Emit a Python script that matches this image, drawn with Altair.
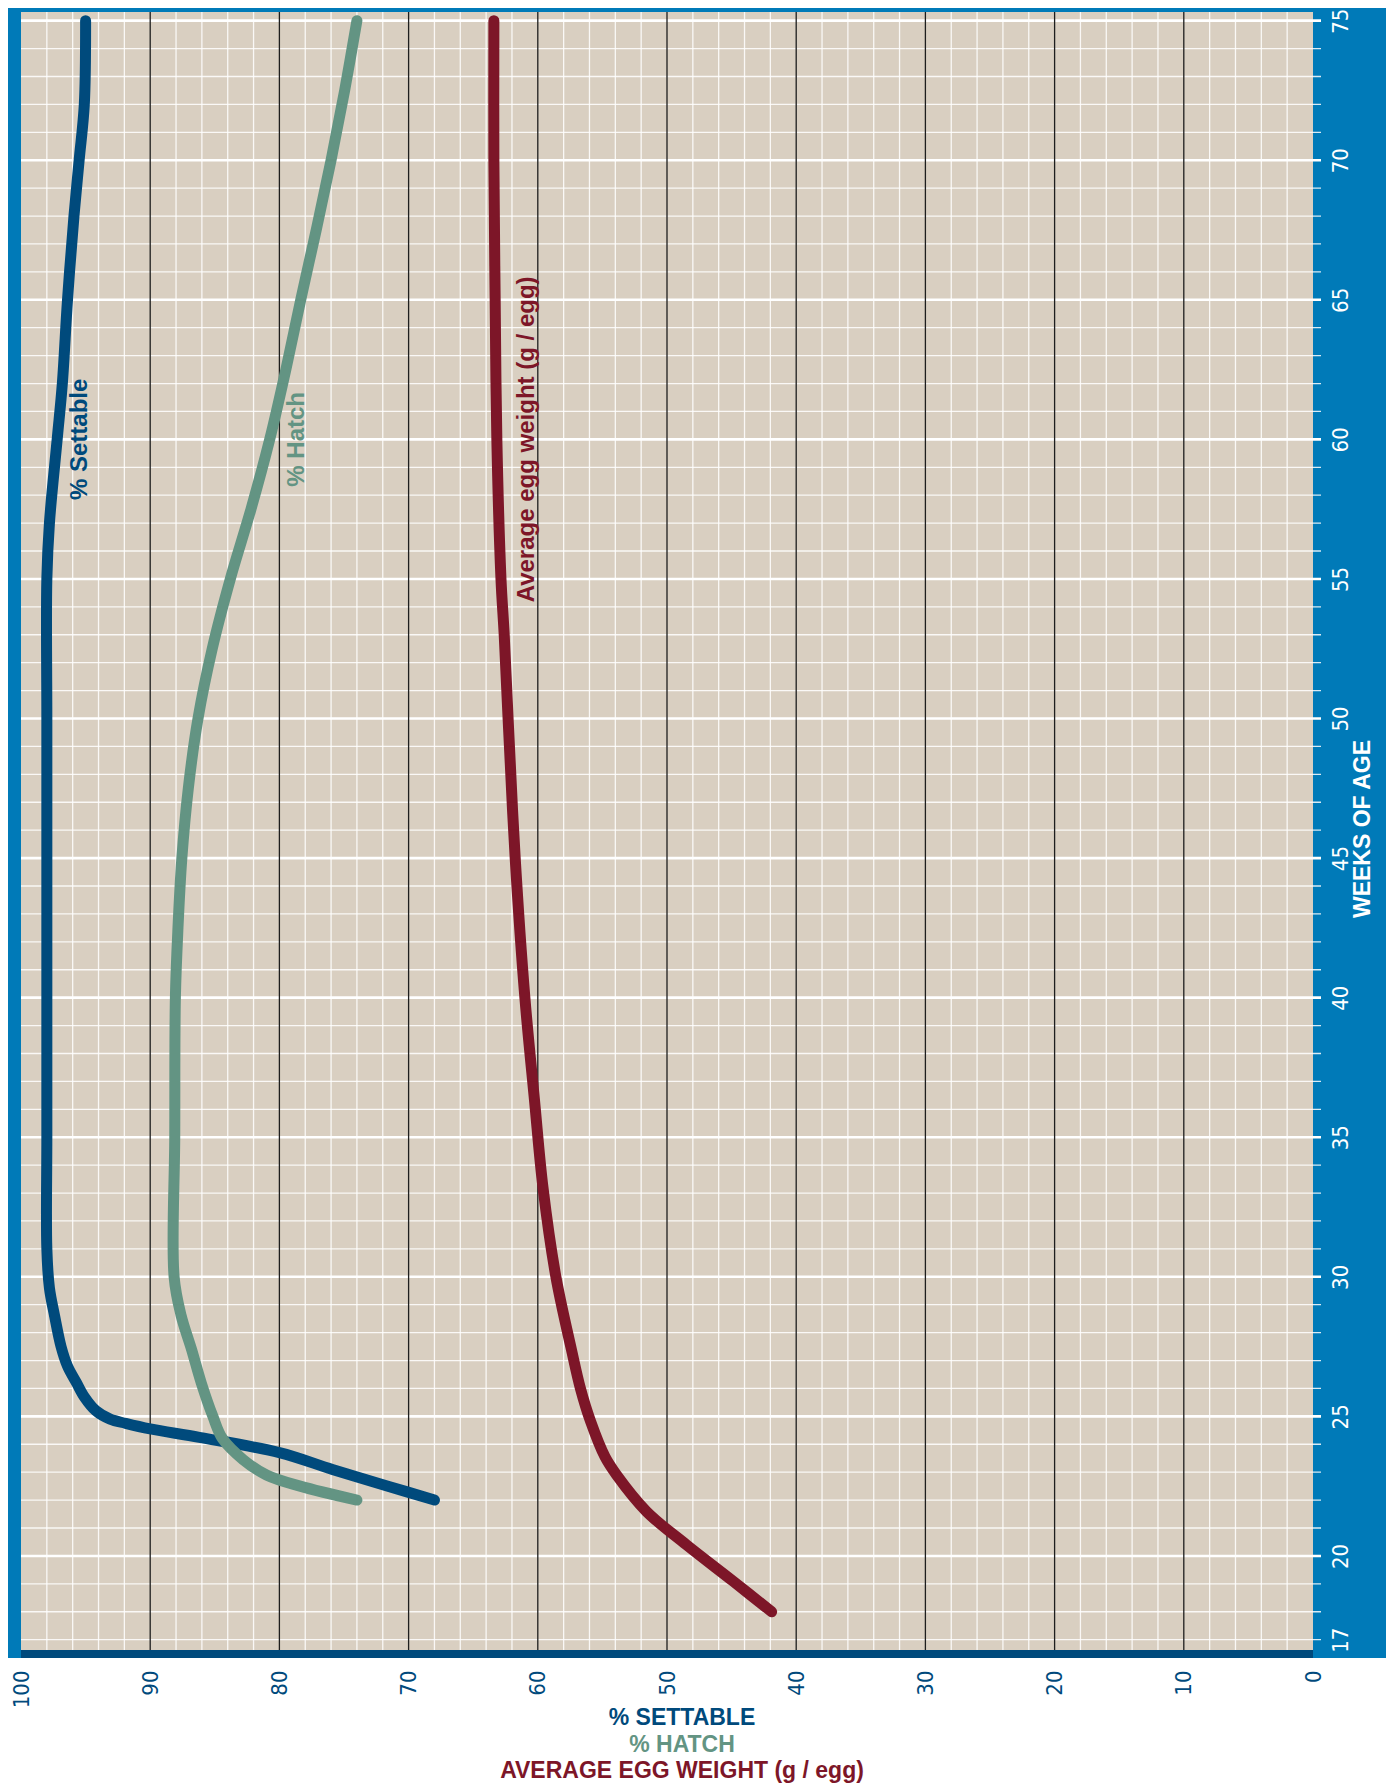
import altair as alt
import pandas as pd

# ---------------- data ----------------
settable_weeks = [22, 22.5, 23.1, 23.7, 24.25, 24.55, 24.75, 24.9, 25.2, 25.7,
                  26.2, 26.8, 27.5, 28.6, 29.6, 31, 35, 40, 45, 50,
                  55, 57, 60, 62, 65, 68, 70, 72, 75]
settable_vals = [68.0, 71.6, 75.9, 80.0, 86.2, 90.0, 91.9, 93.1, 94.2, 95.1,
                 95.7, 96.4, 96.9, 97.4, 97.8, 98.0, 98.0, 98.0, 98.0, 98.0,
                 98.0, 97.8, 97.2, 96.8, 96.4, 95.9, 95.5, 95.1, 95.0]

hatch_weeks = [22, 22.5, 22.9, 23.45, 24.2, 25.0, 26.2, 27.4, 28.6, 30,
               35, 40, 42.5, 45, 47.5, 50, 52.5, 55, 57.5, 60,
               62.5, 65, 67.5, 70, 72.5, 75]
hatch_vals = [74.0, 78.4, 81.0, 82.8, 84.4, 85.15, 86.05, 86.8, 87.6, 88.15,
              88.1, 88.05, 87.85, 87.55, 87.05, 86.3, 85.2, 83.8, 82.2, 80.75,
              79.5, 78.35, 77.15, 76.0, 74.95, 74.0]

egg_weeks = [18, 19.1, 20.4, 21.6, 22.9, 23.55, 24.8, 26, 27.4, 30,
             33.2, 36.3, 40, 45, 50, 53, 55, 60, 65, 70, 75]
egg_vals = [41.9, 44.9, 48.5, 51.6, 53.9, 54.8, 55.9, 56.7, 57.4, 58.6,
            59.6, 60.25, 61.0, 61.75, 62.3, 62.6, 62.85, 63.17, 63.3, 63.4, 63.4]

series_names = ["% Settable", "% Hatch", "Average egg weight (g / egg)"]
label_values = [95.4, 78.6, 60.8]
label_weeks = [60, 60, 60]

x_tick_labels = [100, 90, 80, 70, 60, 50, 40, 30, 20, 10, 0]
week_tick_labels = [17, 20, 25, 30, 35, 40, 45, 50, 55, 60, 65, 70, 75]
x_minor = [v for v in range(2, 100, 2) if v % 10 != 0]
x_major = [10, 20, 30, 40, 50, 60, 70, 80, 90]
week_minor = [w for w in range(17, 76) if w % 5 != 0]
week_major = [w for w in range(20, 76, 5)]

bottom_titles = ["% SETTABLE", "% HATCH", "AVERAGE EGG WEIGHT (g / egg)"]
right_title = "WEEKS OF AGE"

# ---------------- styling ----------------
W, H = 1292, 1638
FRAME = "#007AB8"
DARK = "#004A7C"
BEIGE = "#D9CFC1"
C_SET = "#004A7C"
C_HAT = "#639483"
C_EGG = "#7D1628"
NARROW = "Liberation Sans Narrow, DejaVu Sans Condensed, sans-serif"
SANS = "Liberation Sans, Arial, sans-serif"

xscale = alt.Scale(domain=[0, 100], reverse=True, nice=False, zero=False)
yscale = alt.Scale(domain=[16.63, 75.31], nice=False, zero=False)

x_axis = alt.Axis(values=x_tick_labels, orient="bottom", labelAngle=270,
                  labelAlign="right", labelBaseline="middle", labelPadding=20,
                  ticks=False, tickSize=0, domain=False, grid=False,
                  labelFont=NARROW, labelFontSize=22, labelColor=DARK,
                  title=None, labelFlush=False, labelOverlap=False, zindex=1)
y_axis = alt.Axis(values=week_tick_labels, orient="right", labelAngle=270,
                  labelAlign="center", labelBaseline="top", labelPadding=17,
                  ticks=False, tickSize=0, domain=False, grid=False,
                  labelFont=NARROW, labelFontSize=22, labelColor="white",
                  title=None, labelFlush=False, labelOverlap=False, zindex=1)

one = pd.DataFrame({"k": [0]})

frame = alt.Chart(one).mark_rect(color=FRAME).encode(
    x=alt.value(-13), x2=alt.value(W + 73), y=alt.value(-4), y2=alt.value(H + 8))
plotbg = alt.Chart(one).mark_rect(color=BEIGE).encode(
    x=alt.value(0), x2=alt.value(W), y=alt.value(0), y2=alt.value(H))
band = alt.Chart(one).mark_rect(color=DARK).encode(
    x=alt.value(0), x2=alt.value(W), y=alt.value(H), y2=alt.value(H + 8))

vminor = alt.Chart(pd.DataFrame({"v": x_minor})).mark_rule(
    color="white", strokeWidth=1.3, opacity=0.85).encode(
    x=alt.X("v:Q", scale=xscale, axis=x_axis))
hminor = alt.Chart(pd.DataFrame({"w": week_minor})).mark_rule(
    color="white", strokeWidth=1.3, opacity=0.85).encode(
    y=alt.Y("w:Q", scale=yscale, axis=y_axis), x=alt.value(0), x2=alt.value(W + 8))
hmajor = alt.Chart(pd.DataFrame({"w": week_major})).mark_rule(
    color="white", strokeWidth=2.6).encode(
    y=alt.Y("w:Q", scale=yscale, axis=y_axis), x=alt.value(0), x2=alt.value(W + 8))
vmajor = alt.Chart(pd.DataFrame({"v": x_major})).mark_rule(
    color="#1E1E1E", strokeWidth=1.3).encode(
    x=alt.X("v:Q", scale=xscale, axis=x_axis))


def curve(weeks, vals, color):
    df = pd.DataFrame({"week": weeks, "value": vals})
    return alt.Chart(df).mark_line(
        color=color, strokeWidth=11, strokeCap="round", strokeJoin="round",
        interpolate="catmull-rom").encode(
        x=alt.X("value:Q", scale=xscale, axis=x_axis),
        y=alt.Y("week:Q", scale=yscale, axis=y_axis),
        order=alt.Order("week:Q"))


set_line = curve(settable_weeks, settable_vals, C_SET)
hat_line = curve(hatch_weeks, hatch_vals, C_HAT)
egg_line = curve(egg_weeks, egg_vals, C_EGG)

lab_df = pd.DataFrame({"series": series_names, "value": label_values, "week": label_weeks})
labels = alt.Chart(lab_df).mark_text(
    angle=270, font=SANS, fontSize=24, fontWeight="bold",
    align="center", baseline="middle").encode(
    x=alt.X("value:Q", scale=xscale, axis=x_axis),
    y=alt.Y("week:Q", scale=yscale, axis=y_axis),
    text="series:N",
    color=alt.Color("series:N", scale=alt.Scale(domain=series_names,
                                               range=[C_SET, C_HAT, C_EGG]),
                    legend=None))

wtitle = alt.Chart(one).mark_text(
    text=right_title, angle=270, font=SANS, fontSize=23, fontWeight="bold",
    color="white", align="center", baseline="middle").encode(
    x=alt.value(1342), y=alt.value(817))

bt_layers = []
for txt, col, yy in zip(bottom_titles, [C_SET, C_HAT, C_EGG], [1713, 1740, 1766]):
    bt_layers.append(alt.Chart(one).mark_text(
        text=txt, font=SANS, fontSize=23, fontWeight="bold", color=col,
        align="center", baseline="alphabetic").encode(
        x=alt.value(661), y=alt.value(yy)))

chart = alt.layer(
    frame, plotbg, band, vminor, hminor, hmajor, vmajor,
    set_line, hat_line, egg_line, labels, wtitle, *bt_layers
).properties(width=W, height=H, padding=0, background="white").configure_view(stroke=None)

chart.save("out.html", embed_options={"renderer": "svg", "actions": False})
